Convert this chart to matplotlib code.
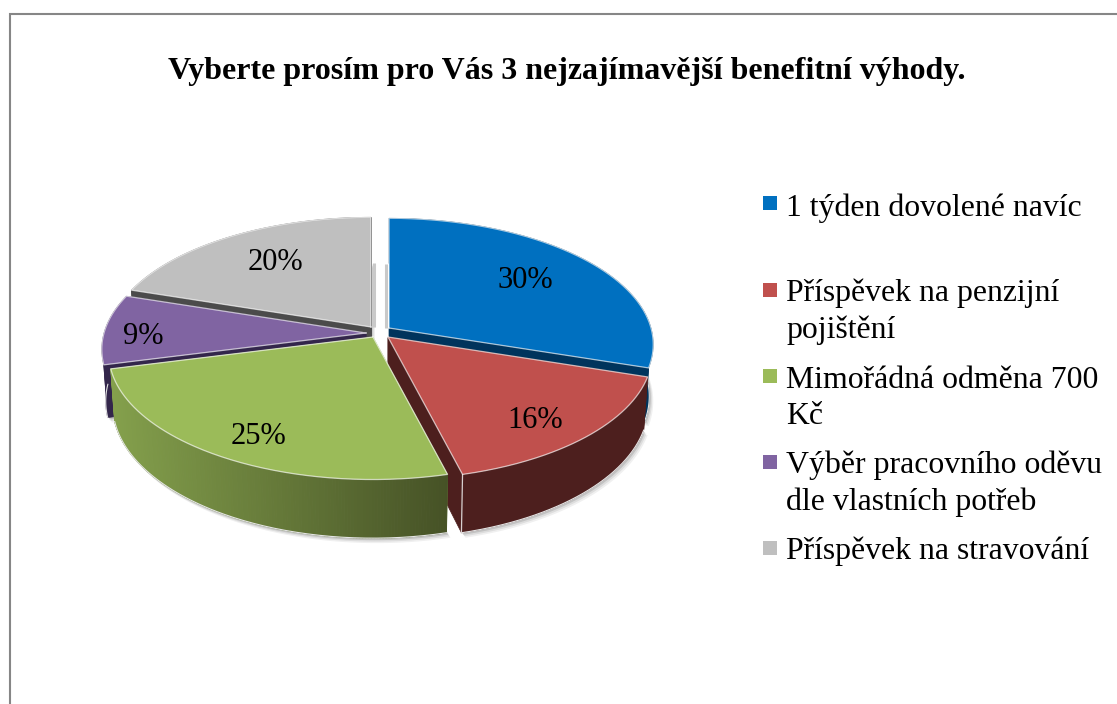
import numpy as np
import matplotlib
matplotlib.use("Agg")
import matplotlib.pyplot as plt
from matplotlib.colors import to_rgb

# ---- data ----
title = "Vyberte prosím pro Vás 3 nejzajímavější benefitní výhody."
categories = ["1 týden dovolené navíc", "Příspěvek na penzijní\npojištění",
              "Mimořádná odměna 700\nKč", "Výběr pracovního oděvu\ndle vlastních potřeb",
              "Příspěvek na stravování"]
values = [30, 16, 25, 9, 20]
colors = ["#0070C0", "#C0504D", "#9BBB59", "#8064A2", "#BFBFBF"]
side_left = ["#00345C", "#4D1F1E", "#84A04C", "#33264B", "#4B4B4B"]
side_right = ["#00345C", "#4D1F1E", "#465226", "#33264B", "#4B4B4B"]

# ---- layout (pixels) ----
W, H = 1117, 704
apexes = [(389, 328), (388, 337), (373, 337), (366, 333), (371, 327)]
label_xy = [(525, 280), (535, 421), (259, 437), (143, 336), (275, 263)]
RX, RY, PERSP, DEPTH, RIM_SHRINK = 262, 124, 0.13, 51, 0.985
legend_x_box, legend_box = 763, 14
legend_x_text = 786
legend_box_y = [196, 283, 369, 455, 541]
legend_base = [[216], [301, 338], [388, 424], [473, 510], [559]]
SERIF = "Liberation Serif"

fig = plt.figure(figsize=(W / 100, H / 100), dpi=100, facecolor="white")
ax = fig.add_axes([0, 0, 1, 1])
ax.set_xlim(0, W)
ax.set_ylim(H, 0)
ax.axis("off")


def project(theta, r, apex, down=0.0):
    """Angle clockwise from 12 o'clock, radius fraction -> pixel position."""
    u, v = r * np.sin(theta), r * np.cos(theta)
    s = 1.0 / (1.0 + PERSP * v)
    shrink = 1 - (1 - RIM_SHRINK) * down
    return apex[0] + RX * u * s * shrink, apex[1] - RY * v * s + down * DEPTH * s


fr = np.array(values, float) / sum(values)
edges = 2 * np.pi * np.concatenate([[0], np.cumsum(fr)])

# soft shadow beneath the pie
for i in range(len(values)):
    th = np.linspace(edges[i], edges[i + 1], 120)
    for off, a in [(5, .06), (3.5, .08), (2, .12)]:
        x, y = project(th, 1, apexes[i], 1)
        x0, y0 = project(0.0, 0.0, apexes[i], 1)
        ax.fill(np.r_[x0, x] + off * .8, np.r_[y0, y] + off, color="#000000",
                alpha=a, lw=0, zorder=1)

# faint shadow strips beside the radial gap
for i, d in [(4, 2.5), (0, -3)]:
    x, y = project(np.array([0.0, 0.0]), np.array([0.0, 0.55]), apexes[i])
    ax.plot(x + d, y, color="#c9c9c9", lw=2.2, solid_capstyle="butt", zorder=1.5)

order = [4, 3, 0, 1, 2]
for i in order:
    z = 2 + order.index(i)
    a = apexes[i]
    t1, t2 = edges[i], edges[i + 1]
    th = np.linspace(t1, t2, 160)
    # radial cut faces
    for t in (t1, t2):
        xa, ya = project(t, 1, a)
        xb, yb = project(t, 1, a, 1)
        xc, yc = project(0.0, 0.0, a, 1)
        ax.fill([a[0], xa, xb, xc], [a[1], ya, yb, yc], color=side_left[i],
                lw=0.5, zorder=z)
    # outer rim, with a left-to-right gradient where the two colours differ
    xt, yt = project(th, 1, a)
    xb, yb = project(th, 1, a, 1)
    if side_left[i] == side_right[i]:
        ax.fill(np.r_[xt, xb[::-1]], np.r_[yt, yb[::-1]], color=side_left[i],
                lw=0.5, zorder=z)
    else:
        cl, cr = np.array(to_rgb(side_left[i])), np.array(to_rgb(side_right[i]))
        for j in range(len(th) - 1):
            f = (xt[j] - xt.min()) / max(xt.max() - xt.min(), 1)
            ax.fill([xt[j], xt[j + 1], xb[j + 1], xb[j]],
                    [yt[j], yt[j + 1], yb[j + 1], yb[j]],
                    color=cl + (cr - cl) * f, lw=0.7, zorder=z)
    front = np.cos(th) < 0
    if front.any():
        ax.plot(xb[front], yb[front], color="#e4e4e4", lw=.8, zorder=z + .1)
    # top face
    ax.fill(np.r_[a[0], xt], np.r_[a[1], yt], color=colors[i], lw=0, zorder=z + .2)
    ax.plot(np.r_[a[0], xt, a[0]], np.r_[a[1], yt, a[1]], color="white", alpha=.65,
            lw=.9, zorder=z + .3)
    # bright vertical edge at the front corner of the exploded slice
    if i == 1:
        xe1, ye1 = project(t2, 1, a)
        xe2, ye2 = project(t2, 1, a, 1)
        ax.plot([xe1, xe2], [ye1, ye2], color="#d8d0d0", lw=.9, zorder=z + .1)
    xl, yl = label_xy[i]
    ax.text(xl, yl, f"{values[i]}%", family=SERIF, fontsize=22, ha="center",
            va="center", color="black", zorder=20)

# frame of the chart area
ax.plot([9.5, 9.5, W], [H, 14, 14], color="#868686", lw=1.5, zorder=0,
        solid_joinstyle="miter")

ax.text(567, 79, title, family=SERIF, weight="bold", fontsize=23, ha="center",
        va="baseline", color="black")

for i, label in enumerate(categories):
    ax.fill([legend_x_box, legend_x_box + legend_box, legend_x_box + legend_box, legend_x_box],
            [legend_box_y[i], legend_box_y[i], legend_box_y[i] + legend_box, legend_box_y[i] + legend_box],
            color=colors[i], lw=0)
    for line, base in zip(label.split("\n"), legend_base[i]):
        ax.text(legend_x_text, base, line, family=SERIF, fontsize=22.9, ha="left",
                va="baseline", color="black")

fig.savefig("out.png", dpi=100, facecolor="white")
